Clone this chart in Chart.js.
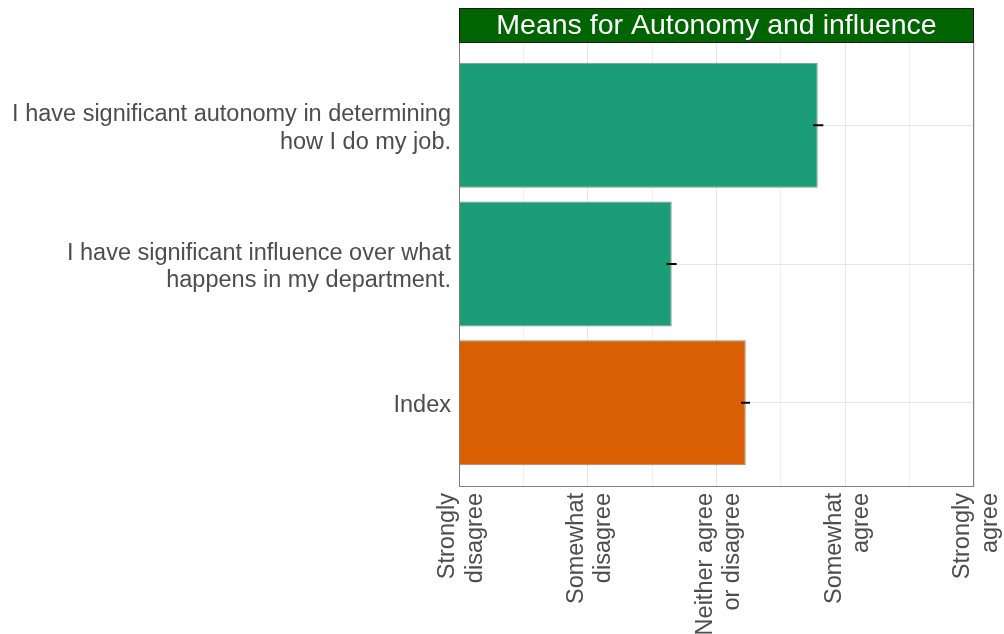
<!DOCTYPE html>
<html>
<head>
<meta charset="utf-8">
<script src="https://cdn.jsdelivr.net/npm/chart.js@4/dist/chart.umd.min.js"></script>
<style>
  html, body { margin: 0; padding: 0; background: #fff; }
  #wrap { width: 1004px; height: 634px; }
</style>
</head>
<body>
<div id="wrap"><canvas id="grafico"></canvas></div>
<script>
// Dados =====================================================================

const categories = [
  ["I have significant autonomy in determining", "how I do my job."],
  ["I have significant influence over what", "happens in my department."],
  ["Index"],
];
const means = [3.786, 2.652, 3.227];
const errLow = [3.75, 2.61, 3.19];
const errHigh = [3.83, 2.69, 3.26];
const barColors = ["#1B9E77", "#1B9E77", "#D95F02"];

const scaleLabels = [
  ["Strongly", "disagree"],
  ["Somewhat", "disagree"],
  ["Neither agree", "or disagree"],
  ["Somewhat", "agree"],
  ["Strongly", "agree"],
];

const title = "Means for Autonomy and influence";

// Plugins ===================================================================

const errorBars = {
  id: "errorBars",
  afterDatasetsDraw(chart) {
    const { ctx, scales } = chart;
    ctx.save();
    ctx.strokeStyle = "#000";
    ctx.lineWidth = 2;
    errLow.forEach((lo, i) => {
      const y = scales.y.getPixelForValue(i);
      ctx.beginPath();
      ctx.moveTo(scales.x.getPixelForValue(lo), y);
      ctx.lineTo(scales.x.getPixelForValue(errHigh[i]), y);
      ctx.stroke();
    });
    ctx.restore();
  },
};

const panel = {
  id: "panel",
  afterDraw(chart) {
    const { ctx, chartArea: a } = chart;
    ctx.save();
    // borda do painel
    ctx.strokeStyle = "#7f7f7f";
    ctx.lineWidth = 1;
    ctx.strokeRect(a.left + 0.5, a.top + 0.5, a.right - a.left - 1, a.bottom - a.top);
    // faixa do título
    const h = 34;
    ctx.fillStyle = "#006400";
    ctx.fillRect(a.left, a.top - h, a.right - a.left, h);
    ctx.strokeStyle = "#1a1a1a";
    ctx.strokeRect(a.left + 0.5, a.top - h + 0.5, a.right - a.left - 1, h);
    ctx.fillStyle = "#ffffff";
    ctx.font = '28.5px "Liberation Sans", Arial, sans-serif';
    ctx.textAlign = "center";
    ctx.textBaseline = "middle";
    ctx.fillText(title, (a.left + a.right) / 2, a.top - h / 2 + 1);
    ctx.restore();
  },
};

// Gráfico ===================================================================

const data = {
  datasets: [
    {
      label: "Mean",
      data: means.map((v, i) => ({ x: [1, v], y: i })),
      backgroundColor: barColors,
      borderColor: "#8c8c8c",
      borderWidth: 1,
      borderSkipped: false,
      categoryPercentage: 1,
      barPercentage: 0.9,
    },
  ],
};

const font = { family: '"Liberation Sans", Arial, sans-serif', size: 23.5 };

const config = {
  type: "bar",
  data: data,
  options: {
    indexAxis: "y",
    responsive: true,
    maintainAspectRatio: false,
    animation: false,
    layout: { padding: { top: 42, right: 30, left: 0, bottom: 0 } },
    plugins: { legend: { display: false }, tooltip: { enabled: false } },
    scales: {
      x: {
        type: "linear",
        min: 1,
        max: 5,
        afterBuildTicks: (s) => {
          s.ticks = [1, 1.5, 2, 2.5, 3, 3.5, 4, 4.5, 5].map((v) => ({ value: v }));
        },
        afterFit: (s) => {
          s.height = 148;
          s.paddingLeft = 0;
          s.paddingRight = 0;
        },
        border: { display: false },
        grid: {
          drawTicks: false,
          color: (c) => (Number.isInteger(c.tick.value) ? "#e6e6e6" : "#f0f0f0"),
        },
        ticks: {
          autoSkip: false,
          minRotation: 90,
          maxRotation: 90,
          padding: 7,
          labelOffset: -11,
          color: "#4d4d4d",
          font: { ...font, lineHeight: 1.15 },
          callback: (v) => (Number.isInteger(v) ? scaleLabels[v - 1] : ""),
        },
      },
      y: {
        type: "linear",
        reverse: true,
        offset: false,
        min: -0.6,
        max: 2.6,
        afterBuildTicks: (s) => {
          s.ticks = categories.map((c, i) => ({ value: i }));
        },
        afterFit: (s) => {
          s.width = 459;
          s.paddingTop = 0;
          s.paddingBottom = 0;
        },
        border: { display: false },
        grid: { drawTicks: false, offset: false, color: "#e6e6e6" },
        ticks: {
          padding: 8,
          labelOffset: 3,
          color: "#4d4d4d",
          font: { ...font, lineHeight: 1.18 },
          callback: (v) => categories[v],
        },
      },
    },
  },
  plugins: [errorBars, panel],
};

const grafico = new Chart(document.getElementById("grafico"), config);
</script>
</body>
</html>
